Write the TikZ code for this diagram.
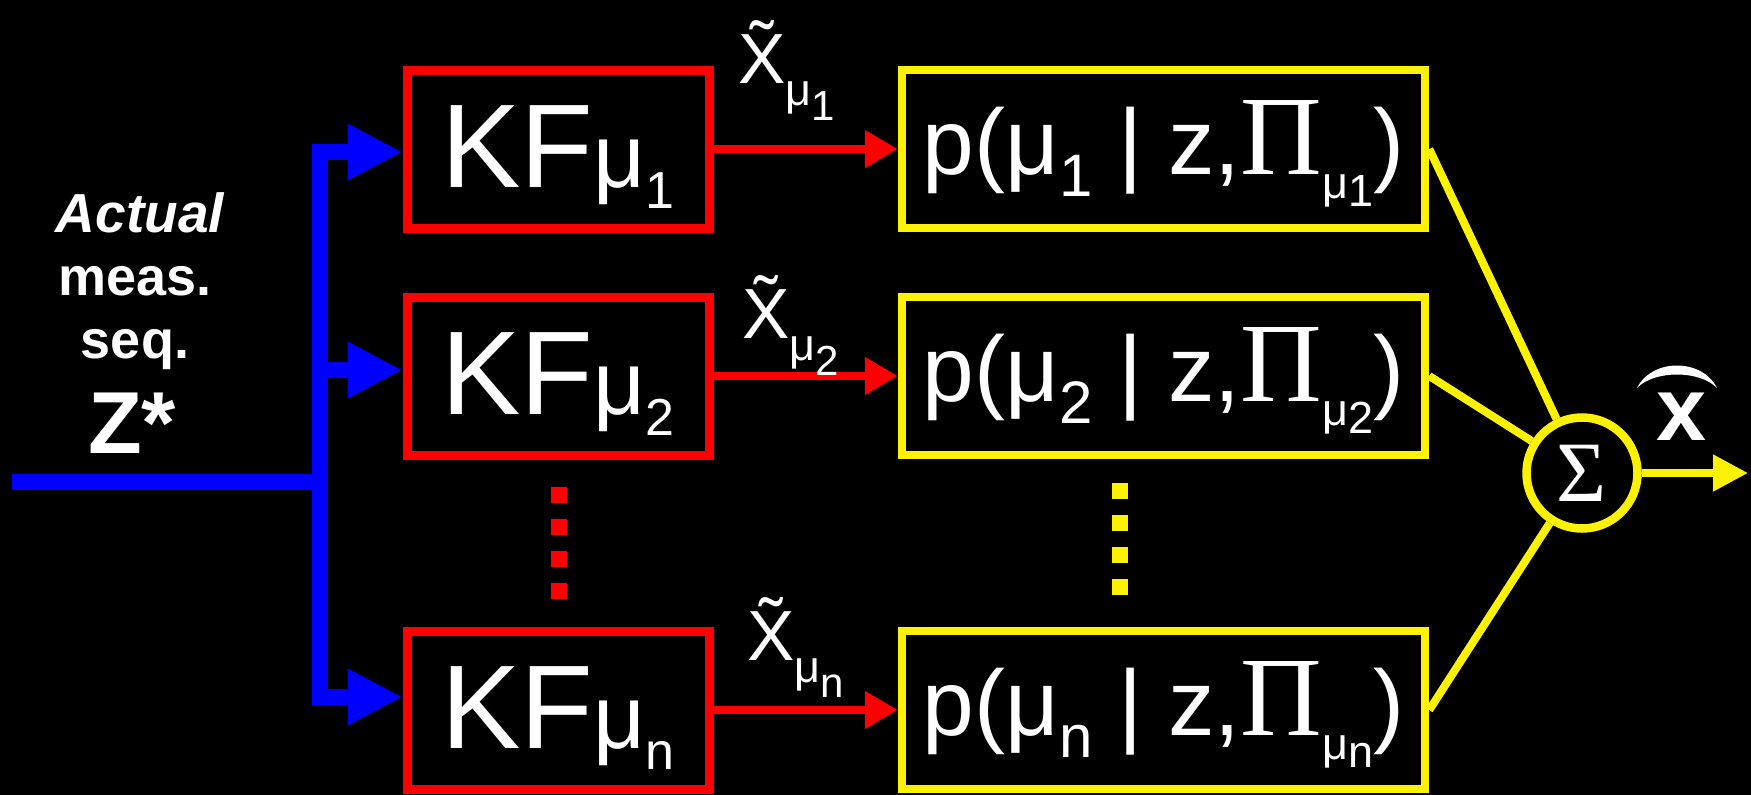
\documentclass[tikz,border=0pt]{standalone}
\usepackage{fontspec}
\setmainfont{Liberation Sans}
\newfontfamily\tms{Liberation Serif}
\usetikzlibrary{arrows.meta}
\newcommand{\myfs}[1]{\fontsize{#1pt}{#1pt}\selectfont}
\begin{document}
\begin{tikzpicture}[x=1pt,y=-1pt,
  kfbox/.style={draw=red, line width=9pt, minimum width=302pt, minimum height=158pt,
    inner sep=0pt, text=white, text height=76pt, text depth=0pt},
  pbox/.style={draw=yellow, line width=8.5pt, minimum width=523pt, minimum height=158pt,
    inner sep=0pt, text=white, text height=51pt, text depth=0pt},
  sigbox/.style={draw=yellow, line width=8.5pt, circle, minimum size=111pt, inner sep=0pt, text=white},
  txt/.style={text=white, inner sep=0pt},
  bluearr/.style={draw=blue, line width=16pt, -{Triangle[length=55pt,width=53pt]}},
  blueline/.style={draw=blue, line width=16pt},
  redarr/.style={draw=red, line width=8pt, -{Triangle[length=33pt,width=36pt]}},
  yline/.style={draw=yellow, line width=8pt},
  yarr/.style={draw=yellow, line width=8pt, -{Triangle[length=35pt,width=35pt]}}
]
\fill[black] (0,0) rectangle (1751,795);
\useasboundingbox (0,0) rectangle (1751,795);

% left text
\node[txt, anchor=base] (t1) at (140,232) {\myfs{55}\bfseries\itshape Actual};
\node[txt, anchor=base] (t2) at (135,295) {\myfs{54}\bfseries meas.};
\node[txt, anchor=base] (t3) at (135,358) {\myfs{54}\bfseries seq.};
\node[txt, anchor=base] (t4) at (132,453) {\myfs{88}\bfseries Z*};

% KF boxes
\node[kfbox] (kf1) at (558,149) {\myfs{119}KF\myfs{90}μ\raisebox{-21pt}{\myfs{52}1}};
\node[kfbox] (kf2) at (558,376) {\myfs{119}KF\myfs{90}μ\raisebox{-21pt}{\myfs{52}2}};
\node[kfbox] (kfn) at (558,710) {\myfs{119}KF\myfs{90}μ\raisebox{-21pt}{\myfs{52}n}};

% probability boxes
\node[pbox] (p1) at (1163.5,149) {\myfs{93}p(μ\raisebox{-22pt}{\myfs{60}1} | z,{\tms\myfs{113}Π}\raisebox{-24pt}{\myfs{45}μ}\raisebox{-32pt}{\myfs{45}1})};
\node[pbox] (p2) at (1163.5,376) {\myfs{93}p(μ\raisebox{-22pt}{\myfs{60}2} | z,{\tms\myfs{113}Π}\raisebox{-24pt}{\myfs{45}μ}\raisebox{-32pt}{\myfs{45}2})};
\node[pbox] (pn) at (1163.5,710) {\myfs{93}p(μ\raisebox{-22pt}{\myfs{60}n} | z,{\tms\myfs{113}Π}\raisebox{-24pt}{\myfs{45}μ}\raisebox{-32pt}{\myfs{45}n})};

% sum node
\node[sigbox] (sig) at (1582,473) {\tms\myfs{86}Σ};

% blue input
\coordinate (in) at (12,482);
\coordinate (bj) at (320,482);
\coordinate (b1) at (320,152);
\coordinate (b2) at (320,370);
\coordinate (bn) at (320,697);
\draw[blueline] (in) -- (bj);
\draw[blueline, line cap=rect] (b1) -- (bn);
\draw[bluearr] (b1) -- (b1 -| kf1.west);
\draw[bluearr] (b2) -- (b2 -| kf2.west);
\draw[bluearr] (bn) -- (bn -| kfn.west);

% red arrows
\draw[redarr] (kf1.east) -- (p1.west);
\draw[redarr] (kf2.east) -- (p2.west);
\draw[redarr] (kfn.east) -- (pn.west);

% tilde labels
\node[txt, anchor=base west] (l1) at (738,83) {\myfs{71}\~{X}\raisebox{-22pt}{\myfs{45}μ}\raisebox{-37pt}{\myfs{42}1}};
\node[txt, anchor=base west] (l2) at (742,338) {\myfs{71}\~{X}\raisebox{-22pt}{\myfs{45}μ}\raisebox{-37pt}{\myfs{42}2}};
\node[txt, anchor=base west] (ln) at (747,660) {\myfs{71}\~{X}\raisebox{-22pt}{\myfs{45}μ}\raisebox{-37pt}{\myfs{42}n}};

% dots
\foreach \yy in {495,527,559,591} \fill[red] (551,\yy-8) rectangle (567,\yy+8);
\foreach \yy in {491,523,555,587} \fill[yellow] (1112,\yy-8) rectangle (1128,\yy+8);

% yellow connections
\draw[yline] (p1.east) -- (sig);
\draw[yline] (p2.east) -- (sig);
\draw[yline] (pn.east) -- (sig);
\coordinate (out) at (1748,473);
\draw[yarr] (sig.east) -- (out);

% x hat
\node[txt, anchor=base] (xh) at (1682,440) {\myfs{90}\bfseries x};
\fill[white] (1637,388) .. controls (1652,358) and (1702,358) .. (1717,388)
  .. controls (1700,370) and (1654,370) .. cycle;
\end{tikzpicture}
\end{document}
